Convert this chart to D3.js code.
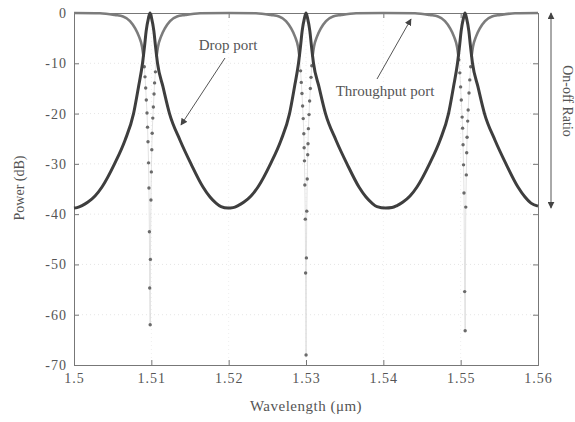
<!DOCTYPE html>
<html>
<head>
<meta charset="utf-8">
<script src="https://cdn.jsdelivr.net/npm/d3@7"></script>
<style>
  body { margin: 0; background: #fff; }
  text { font-family: "Liberation Serif", "DejaVu Serif", serif; fill: #555; }
</style>
</head>
<body>
<div id="chart"></div>
<script>
// axis ticks
var xTicks = [1.5, 1.51, 1.52, 1.53, 1.54, 1.55, 1.56];
var xTickLabels = ["1.5", "1.51", "1.52", "1.53", "1.54", "1.55", "1.56"];
var yTicks = [0, -10, -20, -30, -40, -50, -60, -70];

// drop port (solid curve)
var dropWl = [
  1.5000, 1.50039, 1.50104, 1.50181, 1.50272, 1.50362, 1.50524, 1.5066, 1.5077, 1.50834, 1.50886, 1.50913, 1.50933, 1.50963, 1.50983,
  1.51003, 1.51033, 1.51053, 1.5108, 1.51151, 1.51235, 1.51371, 1.51513, 1.51668, 1.51759, 1.51836, 1.51901, 1.51991,
  1.52056, 1.52121, 1.52198, 1.52289, 1.52379, 1.52541, 1.52677, 1.52787, 1.52851, 1.52903, 1.5293, 1.5295, 1.5298, 1.5300,
  1.5302, 1.5305, 1.5307, 1.53097, 1.53168, 1.53252, 1.53388, 1.5353, 1.53685, 1.53776, 1.53853, 1.53918, 1.5403,
  1.54112, 1.54177, 1.54254, 1.54345, 1.54435, 1.54597, 1.54733, 1.54843, 1.54907, 1.54959, 1.54986, 1.55006, 1.55036, 1.55056,
  1.55076, 1.55106, 1.55126, 1.55153, 1.55224, 1.55308, 1.55444, 1.55586, 1.55741, 1.55832, 1.55909, 1.5600
];
var dropDb = [
  -38.8, -38.7, -38.3, -37.6, -36.4, -34.6, -30.0, -25.3, -20.0, -14.7, -10.0, -6.5, -3.6, -1.0, 0,
  -1.0, -3.6, -6.5, -10.0, -14.7, -20.0, -25.3, -30.0, -34.6, -36.6, -37.8, -38.5, -38.8,
  -38.7, -38.3, -37.6, -36.4, -34.6, -30.0, -25.3, -20.0, -14.7, -10.0, -6.5, -3.6, -1.0, 0,
  -1.0, -3.6, -6.5, -10.0, -14.7, -20.0, -25.3, -30.0, -34.6, -36.6, -37.8, -38.5, -38.8,
  -38.7, -38.3, -37.6, -36.4, -34.6, -30.0, -25.3, -20.0, -14.7, -10.0, -6.5, -3.6, -1.0, 0,
  -1.0, -3.6, -6.5, -10.0, -14.7, -20.0, -25.3, -30.0, -34.6, -36.6, -37.8, -38.4
];

// throughput port (marker series)
var throughWl = [
  1.5000, 1.50336, 1.5053, 1.50634, 1.50724, 1.50789, 1.50841, 1.5088, 1.50899,
  1.50909, 1.50918, 1.50927, 1.50935, 1.50944, 1.50951, 1.50957, 1.50964, 1.50969, 1.50975, 1.50979,
  1.50985, 1.50988, 1.50995, 1.51000, 1.51006, 1.51011, 1.51019, 1.51026, 1.51035, 1.51042, 1.51053,
  1.51067, 1.51086, 1.51125, 1.51177, 1.51242, 1.51332, 1.51436, 1.5163, 1.5200,
  1.52353, 1.52547, 1.52651, 1.52741, 1.52806, 1.52858, 1.52897, 1.52916,
  1.5293, 1.52939, 1.52948, 1.52956, 1.52964, 1.52972, 1.52976, 1.5298, 1.52985, 1.52991, 1.52995,
  1.53001, 1.53005, 1.5301, 1.53016, 1.53022, 1.53026, 1.53031, 1.53039, 1.53047, 1.53056, 1.53065, 1.53075,
  1.53084, 1.53103, 1.53142, 1.53194, 1.53259, 1.53349, 1.53453, 1.53647, 1.5400,
  1.54409, 1.54603, 1.54707, 1.54797, 1.54862, 1.54914, 1.54953, 1.54972,
  1.54976, 1.54989, 1.54999, 1.55008, 1.55019, 1.55025, 1.55031, 1.55037, 1.55043, 1.55052,
  1.55058, 1.55066, 1.55073, 1.55078, 1.55083, 1.55091, 1.55097, 1.55108, 1.55118, 1.5513,
  1.5514, 1.55159, 1.55198, 1.5525, 1.55315, 1.55405, 1.55509, 1.55703, 1.5600
];
var throughDb = [
  0, -0.05, -0.4, -0.7, -1.6, -3.0, -4.7, -6.7, -8.7,
  -10.7, -12.7, -14.9, -17.3, -19.9, -22.7, -25.6, -29.8, -34.8, -43.5, -54.7,
  -62.0, -49.0, -37.2, -31.6, -27.2, -23.9, -20.9, -18.7, -16.1, -13.9, -11.7,
  -8.7, -6.7, -4.7, -3.0, -1.6, -0.7, -0.4, -0.05, 0,
  -0.05, -0.4, -0.7, -1.6, -3.0, -4.7, -6.7, -8.7,
  -11.5, -13.8, -16.0, -18.5, -21.0, -24.0, -26.8, -29.4, -34.2, -41.0, -51.7,
  -68.0, -48.7, -39.4, -33.0, -28.2, -26.0, -23.0, -20.2, -17.5, -15.0, -12.8, -10.5,
  -8.7, -6.7, -4.7, -3.0, -1.6, -0.7, -0.4, -0.05, 0,
  -0.05, -0.4, -0.7, -1.6, -3.0, -4.7, -6.7, -8.7,
  -9.3, -11.9, -14.7, -17.3, -20.7, -22.9, -26.2, -30.2, -35.8, -55.4,
  -63.2, -38.6, -32.2, -27.8, -24.7, -21.5, -19.3, -15.9, -13.3, -10.7,
  -8.7, -6.7, -4.7, -3.0, -1.6, -0.7, -0.4, -0.05, 0
];

var dropData = dropWl.map(function(w, i) { return { wl: w, db: dropDb[i] } })
var throughData = throughWl.map(function(w, i) { return { wl: w, db: throughDb[i] } })

var width = 575, height = 422
var plotLeft = 74, plotRight = 538, plotTop = 13, plotBottom = 365

var svg = d3.select("#chart").append("svg")
  .attr("width", width)
  .attr("height", height)

var x = d3.scaleLinear().domain([1.5, 1.56]).range([plotLeft, plotRight])
var y = d3.scaleLinear().domain([-70, 0]).range([plotBottom, plotTop])

// faint grid
svg.append("g").selectAll("line")
  .data(yTicks.slice(1, -1))
  .enter().append("line")
  .attr("x1", plotLeft).attr("x2", plotRight)
  .attr("y1", function(d) { return y(d) }).attr("y2", function(d) { return y(d) })
  .attr("stroke", "#e6e6e6").attr("stroke-dasharray", "1,3")
svg.append("g").selectAll("line")
  .data(xTicks.slice(1, -1))
  .enter().append("line")
  .attr("y1", plotTop).attr("y2", plotBottom)
  .attr("x1", function(d) { return x(d) }).attr("x2", function(d) { return x(d) })
  .attr("stroke", "#efefef").attr("stroke-dasharray", "1,3")

// axes, ticks pointing inward like a matlab box
svg.append("g").attr("transform", "translate(0," + plotBottom + ")")
  .call(d3.axisBottom(x).tickValues(xTicks).tickSize(-5).tickPadding(8)
    .tickFormat(function(d, i) { return xTickLabels[i] }))
svg.append("g").attr("transform", "translate(0," + plotTop + ")")
  .call(d3.axisTop(x).tickValues(xTicks).tickSize(-5).tickFormat(""))
svg.append("g").attr("transform", "translate(" + plotLeft + ",0)")
  .call(d3.axisLeft(y).tickValues(yTicks).tickSize(-5).tickPadding(7)
    .tickFormat(function(d) { return String(d) }))
svg.append("g").attr("transform", "translate(" + plotRight + ",0)")
  .call(d3.axisRight(y).tickValues(yTicks).tickSize(-5).tickFormat(""))

svg.selectAll(".domain").attr("stroke", "#777")
svg.selectAll(".tick line").attr("stroke", "#777")
svg.selectAll(".tick text")
  .style("font-family", "'Liberation Serif', serif")
  .style("font-size", "14px")
  .style("letter-spacing", "1px")
  .attr("fill", "#666")

// throughput: thin connecting line, solid part near 0 dB, dots in the notch
var thinLine = d3.line()
  .x(function(d) { return x(d.wl) })
  .y(function(d) { return y(d.db) })
svg.append("path")
  .datum(throughData)
  .attr("d", thinLine)
  .attr("fill", "none")
  .attr("stroke", "#d6d6d6")
  .attr("stroke-width", 0.7)

var thickLine = d3.line()
  .defined(function(d) { return d.db > -9 })
  .curve(d3.curveMonotoneX)
  .x(function(d) { return x(d.wl) })
  .y(function(d) { return y(d.db) })
svg.append("path")
  .datum(throughData)
  .attr("d", thickLine)
  .attr("fill", "none")
  .attr("stroke", "#7c7c7c")
  .attr("stroke-width", 2.6)

svg.append("g").selectAll("circle")
  .data(throughData.filter(function(d) { return d.db <= -9 }))
  .enter().append("circle")
  .attr("cx", function(d) { return x(d.wl) })
  .attr("cy", function(d) { return y(d.db) })
  .attr("r", 1.7)
  .attr("fill", "#6a6a6a")

// drop port curve
var dropLine = d3.line()
  .curve(d3.curveMonotoneX)
  .x(function(d) { return x(d.wl) })
  .y(function(d) { return y(d.db) })
svg.append("path")
  .datum(dropData)
  .attr("d", dropLine)
  .attr("fill", "none")
  .attr("stroke", "#3e3e3e")
  .attr("stroke-width", 3)

// arrowheads
var defs = svg.append("defs")
defs.append("marker")
  .attr("id", "head")
  .attr("viewBox", "0 0 10 10")
  .attr("refX", 9).attr("refY", 5)
  .attr("markerWidth", 7).attr("markerHeight", 7)
  .attr("markerUnits", "userSpaceOnUse")
  .attr("orient", "auto-start-reverse")
  .append("path").attr("d", "M0,0 L10,5 L0,10 z").attr("fill", "#444")

// annotations
svg.append("text").attr("x", 228).attr("y", 50)
  .attr("text-anchor", "middle").style("font-size", "15px").text("Drop port")
svg.append("line")
  .attr("x1", 225).attr("y1", 58).attr("x2", 181).attr("y2", 125)
  .attr("stroke", "#555").attr("stroke-width", 1)
  .attr("marker-end", "url(#head)")

svg.append("text").attr("x", 385).attr("y", 96)
  .attr("text-anchor", "middle").style("font-size", "15px").text("Throughput port")
svg.append("line")
  .attr("x1", 377).attr("y1", 79).attr("x2", 411).attr("y2", 19)
  .attr("stroke", "#555").attr("stroke-width", 1)
  .attr("marker-end", "url(#head)")

// on-off ratio double arrow
svg.append("line")
  .attr("x1", 551).attr("y1", y(0)).attr("x2", 551).attr("y2", y(-38.8))
  .attr("stroke", "#555").attr("stroke-width", 1)
  .attr("marker-start", "url(#head)")
  .attr("marker-end", "url(#head)")
svg.append("text")
  .attr("transform", "translate(563,101) rotate(90)")
  .attr("text-anchor", "middle").style("font-size", "14px").text("On-off Ratio")

// axis titles
svg.append("text").attr("x", 306).attr("y", 411)
  .attr("text-anchor", "middle").style("font-size", "15px").style("letter-spacing", "0.5px")
  .text("Wavelength (\u03bcm)")
svg.append("text")
  .attr("transform", "translate(24,188) rotate(-90)")
  .attr("text-anchor", "middle").style("font-size", "14px").text("Power (dB)")
</script>
</body>
</html>
